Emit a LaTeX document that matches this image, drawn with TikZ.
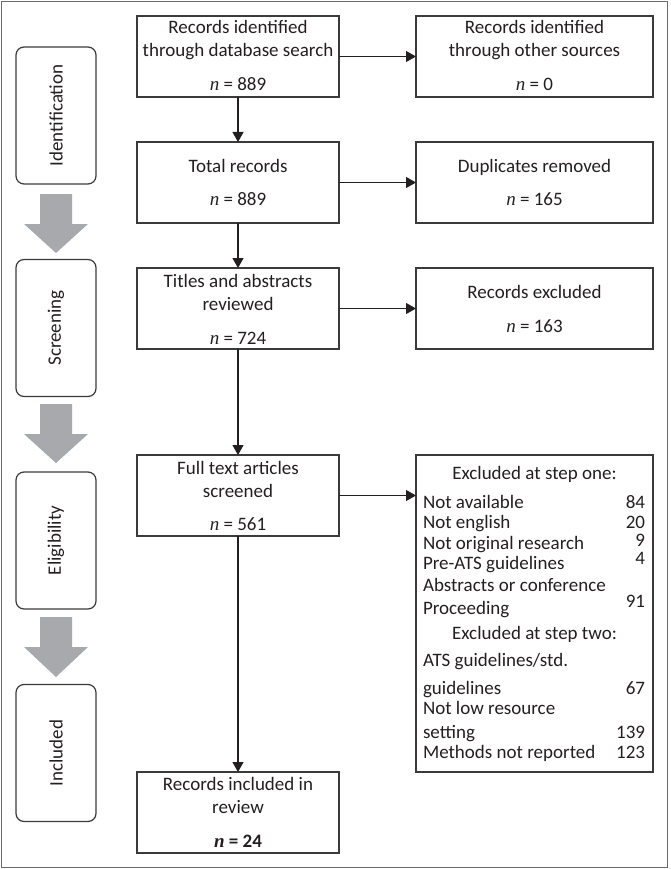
\documentclass[tikz,border=0pt]{standalone}
\usepackage{fontspec}
\setmainfont{Carlito}
\newfontfamily\nserif{Liberation Serif}
\newcommand{\nit}{{\nserif\itshape n}}
\newcommand{\nbf}{{\nserif\bfseries\itshape n}}
\usetikzlibrary{arrows.meta}
\definecolor{framegray}{HTML}{6B6B6B}
\definecolor{boxline}{HTML}{3A3A3A}
\definecolor{stagearrow}{HTML}{A7A9AC}
\definecolor{ink}{HTML}{231F20}
\begin{document}
\begin{tikzpicture}[x=1pt,y=-1pt,
  box/.style={draw=boxline,line width=1.2pt,rectangle,inner sep=0pt,outer sep=0pt},
  stagebox/.style={draw=boxline,line width=1.2pt,rounded corners=8pt,minimum width=80pt,minimum height=137pt,inner sep=0pt,outer sep=0pt},
  txt/.style={inner sep=0pt,outer sep=0pt,font=\fontsize{19pt}{22pt}\selectfont,text=ink},
  flow/.style={draw=ink,line width=1.2pt,-{Triangle[length=10pt,width=11pt]}}]
\useasboundingbox (0,0) rectangle (670,869);
\draw[framegray,line width=1.5pt] (1.5,1.5) rectangle (667.5,867.5);

% stage boxes
\node[stagebox] (s1) at (56,115.5) {};
\node[txt,rotate=90] (s1t) at (s1.center) {Identification};
\node[stagebox] (s2) at (56,328) {};
\node[txt,rotate=90] (s2t) at (s2.center) {Screening};
\node[stagebox] (s3) at (56,540.5) {};
\node[txt,rotate=90] (s3t) at (s3.center) {Eligibility};
\node[stagebox] (s4) at (56,753) {};
\node[txt,rotate=90] (s4t) at (s4.center) {Included};

% gray stage arrows
\fill[stagearrow] (40,194) -- (72,194) -- (72,224) -- (88,224) -- (56,253) -- (24,224) -- (40,224) -- cycle;
\fill[stagearrow] (40,404) -- (72,404) -- (72,434) -- (88,434) -- (56,463) -- (24,434) -- (40,434) -- cycle;
\fill[stagearrow] (40,617) -- (72,617) -- (72,647) -- (88,647) -- (56,677) -- (24,647) -- (40,647) -- cycle;

% main column boxes
\node[box,minimum width=202pt,minimum height=81pt] (b1) at (238,56.5) {};
\node[box,minimum width=202pt,minimum height=81pt] (b2) at (238,182.5) {};
\node[box,minimum width=202pt,minimum height=81pt] (b3) at (238,308.5) {};
\node[box,minimum width=202pt,minimum height=81pt] (b4) at (238,495.5) {};
\node[box,minimum width=202pt,minimum height=81pt] (b5) at (238,812.5) {};
% right column boxes
\node[box,minimum width=237pt,minimum height=81pt] (r1) at (534.5,56.5) {};
\node[box,minimum width=237pt,minimum height=81pt] (r2) at (534.5,182.5) {};
\node[box,minimum width=237pt,minimum height=81pt] (r3) at (534.5,308.5) {};
\node[box,minimum width=237pt,minimum height=317pt] (r4) at (534.5,613.5) {};

% texts main column
\node[txt,anchor=base] (b1a) at (238,34) {Records identified};
\node[txt,anchor=base] (b1b) at (238,57) {through database search};
\node[txt,anchor=base] (b1c) at (238,91) {\nit{} = 889};
\node[txt,anchor=base] (b2a) at (238,172) {Total records};
\node[txt,anchor=base] (b2b) at (238,205) {\nit{} = 889};
\node[txt,anchor=base] (b3a) at (238,287) {Titles and abstracts};
\node[txt,anchor=base] (b3b) at (238,310) {reviewed};
\node[txt,anchor=base] (b3c) at (238,344) {\nit{} = 724};
\node[txt,anchor=base] (b4a) at (238,474) {Full text articles};
\node[txt,anchor=base] (b4b) at (238,497) {screened};
\node[txt,anchor=base] (b4c) at (238,530) {\nit{} = 561};
\node[txt,anchor=base] (b5a) at (238,790) {Records included in};
\node[txt,anchor=base] (b5b) at (238,813) {review};
\node[txt,anchor=base] (b5c) at (238,847) {\nbf{} \textbf{= 24}};

% texts right column
\node[txt,anchor=base] (r1a) at (534.5,34) {Records identified};
\node[txt,anchor=base] (r1b) at (534.5,57) {through other sources};
\node[txt,anchor=base] (r1c) at (534.5,91) {\nit{} = 0};
\node[txt,anchor=base] (r2a) at (534.5,172) {Duplicates removed};
\node[txt,anchor=base] (r2b) at (534.5,205) {\nit{} = 165};
\node[txt,anchor=base] (r3a) at (534.5,298) {Records excluded};
\node[txt,anchor=base] (r3b) at (534.5,332) {\nit{} = 163};

% excluded list
\node[txt,anchor=base] (h1) at (534.5,479) {Excluded at step one:};
\node[txt,anchor=base west] (e1) at (423,508) {Not available};
\node[txt,anchor=base east] (e1n) at (645,508) {84};
\node[txt,anchor=base west] (e2) at (423,528) {Not english};
\node[txt,anchor=base east] (e2n) at (645,528) {20};
\node[txt,anchor=base west] (e3) at (423,549) {Not original research};
\node[txt,anchor=base east] (e3n) at (645,546) {9};
\node[txt,anchor=base west] (e4) at (423,569) {Pre-ATS guidelines};
\node[txt,anchor=base east] (e4n) at (645,564) {4};
\node[txt,anchor=base west] (e5) at (423,591) {Abstracts or conference};
\node[txt,anchor=base west] (e5b) at (423,614) {Proceeding};
\node[txt,anchor=base east] (e5n) at (645,607) {91};
\node[txt,anchor=base] (h2) at (534.5,639) {Excluded at step two:};
\node[txt,anchor=base west] (f1) at (423,666) {ATS guidelines/std.};
\node[txt,anchor=base west] (f1b) at (423,694) {guidelines};
\node[txt,anchor=base east] (f1n) at (645,694) {67};
\node[txt,anchor=base west] (f2) at (423,714) {Not low resource};
\node[txt,anchor=base west] (f2b) at (423,738) {setting};
\node[txt,anchor=base east] (f2n) at (645,738) {139};
\node[txt,anchor=base west] (f3) at (423,758) {Methods not reported};
\node[txt,anchor=base east] (f3n) at (645,758) {123};

% connectors
\draw[flow] (b1) -- (b2);
\draw[flow] (b2) -- (b3);
\draw[flow] (b3) -- (b4);
\draw[flow] (b4) -- (b5);
\draw[flow] (b1) -- (r1);
\draw[flow] (b2) -- (r2);
\draw[flow] (b3) -- (r3);
\draw[flow] (b4.east) -- (b4.east -| r4.west);
\end{tikzpicture}
\end{document}
